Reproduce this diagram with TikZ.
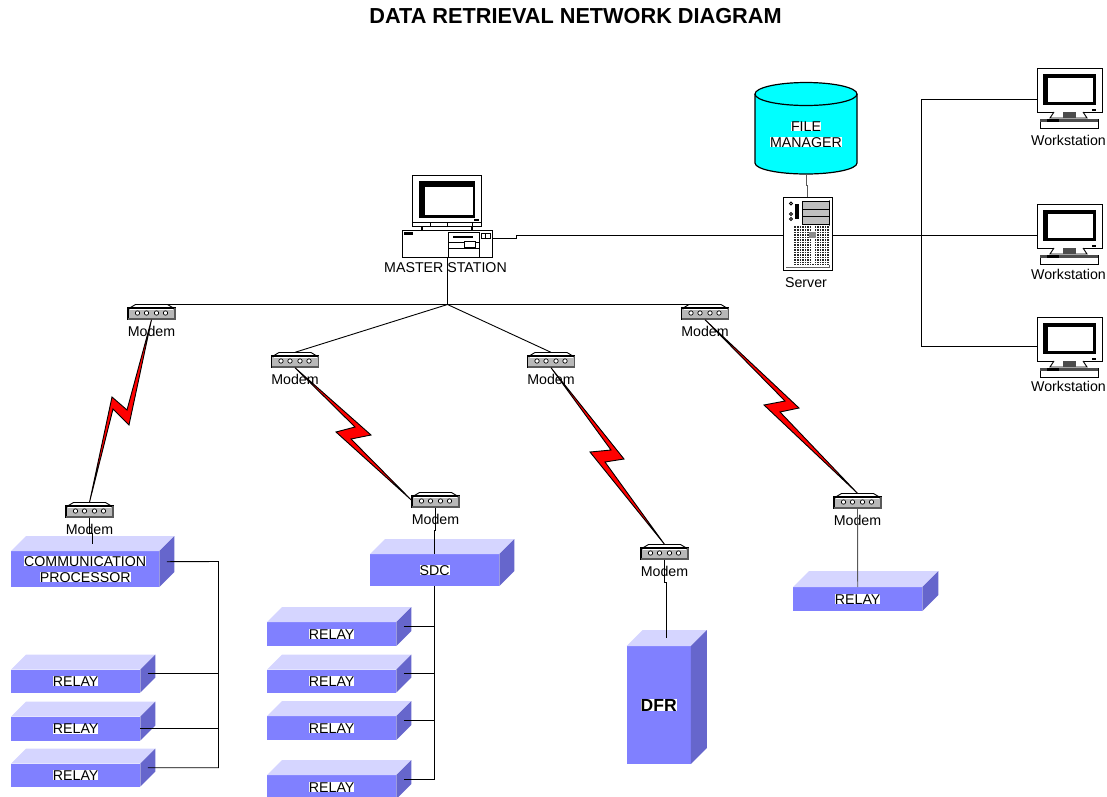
\documentclass[tikz,border=0pt]{standalone}
\usepackage{fontspec}
\setmainfont{Liberation Sans}
\usepackage{xcolor}
\usetikzlibrary{positioning}

\definecolor{boxfront}{HTML}{8080FF}
\definecolor{boxtop}{HTML}{D5D5FF}
\definecolor{boxside}{HTML}{6666CC}
\definecolor{fmcyan}{HTML}{00FFFF}

\tikzset{
    lbl/.style={font=\fontsize{14.2}{16}\selectfont, inner sep=0pt, align=center},
    wire/.style={line width=0.9pt, black},
    graywire/.style={line width=0.9pt, black!65},
    boltline/.style={draw=black, fill=red, line width=0.9pt, miter limit=20},
    frontbox/.style={fill=boxfront, inner sep=0pt, anchor=north west, lbl},
    part/.style={line width=0.9pt, draw=black}
}

\newcommand{\hilite}[1]{{\setlength{\fboxsep}{0pt}\colorbox{white}{#1}}}

\newcommand{\boxunit}[7]{
    \node[frontbox, minimum width=#4, minimum height=#5] (#1) at (#2,#3) {#7};
    \fill[boxtop] (#1.north west) -- ++(#6,-#6) -- ++(#4,0) -- ++(-#6,#6) -- cycle;
    \fill[boxside] (#1.north east) -- ++(#6,-#6) -- ++(0,#5) -- ++(-#6,#6) -- cycle;
    \path (#1.north) ++(#6/2,-#6/2) coordinate (#1top);
    \path (#1.east) ++(#6/2,-#6/2) coordinate (#1side);
}

\newcommand{\modem}[3]{
    \node[minimum width=48, minimum height=15, inner sep=0pt] (#1) at (#2,#3) {};
    \path (#1) ++(0,19) node[lbl] (#1l) {Modem};
    \begin{scope}[shift={(#2,#3)}]
        \draw[part, fill=white] (-21,-4.5) -- (-16,-7.5) -- (16,-7.5) -- (21,-4.5);
        \draw[line width=1.5pt, fill=black!28] (-23.5,-4) rectangle (23.5,6.8);
        \draw[line width=0.7pt, white] (-21.5,-2.5) -- (21.5,-2.5);
        \draw[line width=1.5pt, black!65] (-23.5,6.8) -- (23.5,6.8) -- (23.5,-4);
        \foreach \hx in {-14,-5,5,14}
            \draw[line width=0.7pt, fill=white] (\hx,1) circle[radius=2.2pt];
    \end{scope}
}

\newcommand{\wstation}[4]{
    \node[minimum width=65, minimum height=60, inner sep=0pt] (#1) at (#2+32.5,#3+30) {};
    \path (#1) ++(-1,#4) node[lbl] (#1l) {Workstation};
    \begin{scope}[shift={(#2,#3)}]
        \draw[part, fill=white] (0,0) rectangle (65,44);
        \fill[black] (6,6) rectangle (59,37);
        \fill[white] (10.5,10) rectangle (56,34);
        \fill[black] (55,41) rectangle (59,42.5);
        \draw[part, fill=white] (17,44) -- (13,50) -- (50,50) -- (46,44);
        \fill[black!70] (26,44) rectangle (39,50);
        \draw[part, fill=white] (3,51) rectangle (61,60);
        \fill[black!70] (3,51) rectangle (61,54);
        \fill[black] (10,51) rectangle (22,54);
    \end{scope}
}

\begin{document}
\begin{tikzpicture}[x=1pt, y=-1pt]

    \clip (0,0) rectangle (1107,796);

    \node[font=\fontsize{21.7}{24}\bfseries, inner sep=0pt] (title) at (575.5,16.5) {DATA RETRIEVAL NETWORK DIAGRAM};

    \node[minimum width=90, minimum height=82, inner sep=0pt] (master) at (447.5,216) {};
    \node[lbl] (masterl) at (445.5,268) {MASTER STATION};
    \coordinate (masterp) at (492,238.5);

    \draw[part, fill=white] (412,175) rectangle (481,226);
    \fill[black] (419,181) rectangle (475,218);
    \fill[white] (425,187) rectangle (473,215);
    \draw[part] (412,222) -- (481,222);
    \foreach \tx in {430,447,472} \draw[part] (\tx,222) -- (\tx,226);
    \fill[black] (474,219) rectangle (479,220.5);
    \draw[line width=1.2pt] (422,226) -- (422,230) (472,226) -- (472,230);
    \draw[part, fill=white] (402,230) rectangle (492,257);
    \fill[black] (404,232) rectangle (413,235);
    \draw[part] (448,232) rectangle (479,257);
    \draw[line width=1.3pt] (453,237) -- (473,237);
    \draw[part] (448,242) -- (479,242) (448,248) -- (479,248);
    \draw[part, fill=white] (464,241) rectangle (475,247);
    \draw[part] (481,233) rectangle (485.5,238) (485.5,233) rectangle (490,238);

    \draw[line width=1.2pt, fill=fmcyan] (755,94) -- (755,163)
        arc[start angle=180, end angle=360, x radius=51pt, y radius=11pt]
        -- (857,94) arc[start angle=0, end angle=180, x radius=51pt, y radius=11.5pt] -- cycle;
    \draw[line width=1.2pt] (755,94)
        arc[start angle=180, end angle=360, x radius=51pt, y radius=11.5pt];
    \node[minimum width=102, minimum height=92, inner sep=0pt] (fileman) at (806.5,128) {};
    \node[lbl] (filemanl) at (806,134.5) {\hilite{FILE}\\\hilite{MANAGER}};

    \node[minimum width=49, minimum height=73, inner sep=0pt] (server) at (807.5,233.5) {};
    \node[lbl] (serverl) at (806,283) {Server};
    \draw[part, fill=white] (783,197) rectangle (832,270);
    \draw[line width=0.4pt, black!60] (786,267) -- (829,267) -- (829,200);
    \draw[part, fill=black!25] (802,201) rectangle (829,224);
    \draw[part] (802,209) -- (829,209) (802,216) -- (829,216);
    \draw[part] (791,203.5) circle[radius=1.5pt] (791,214) circle[radius=1.5pt] (791,219) circle[radius=1.5pt];
    \fill[black] (795,204) rectangle (799,219);
    \fill[black!85] (794,226) rectangle (829,265);
    \foreach \gx in {796.5,799,...,829} \draw[line width=0.25pt, white] (\gx,226) -- (\gx,265);
    \foreach \gy in {228.5,231,...,265} \draw[line width=0.25pt, white] (794,\gy) -- (829,\gy);
    \fill[white] (811,226) rectangle (814,264);
    \fill[black!45] (808.5,232) rectangle (816,238);

    \wstation{ws1}{1037}{68}{42}
    \wstation{ws2}{1037}{204}{40}
    \wstation{ws3}{1037}{317}{39}

    \coordinate (busv) at (921.5,235.5);
    \coordinate (ws1p) at (1037,99.5);
    \coordinate (ws2p) at (1037,235.5);
    \coordinate (ws3p) at (1037,346.5);

    \modem{mo1}{151.5}{312}
    \modem{mo2}{295}{360}
    \modem{mo3}{551}{360}
    \modem{mo4}{705}{312}
    \modem{mo5}{89.5}{510}
    \modem{mo6}{435.5}{500}
    \modem{mo7}{664.5}{552}
    \modem{mo8}{857.5}{501}

    \boxunit{comm}{11}{551}{148}{36}{15}{\hilite{COMMUNICATION}\\\hilite{PROCESSOR}}
    \boxunit{rla}{11}{669.5}{129}{23}{15}{\hilite{RELAY}}
    \boxunit{rlb}{11}{716.5}{129}{24}{15}{\hilite{RELAY}}
    \boxunit{rlc}{11}{763.5}{129}{23}{15}{\hilite{RELAY}}

    \boxunit{sdc}{370}{554}{129}{32}{15}{\hilite{SDC}}
    \boxunit{rld}{267}{622}{129}{24}{15}{\hilite{RELAY}}
    \boxunit{rle}{267}{669.5}{129}{23}{15}{\hilite{RELAY}}
    \boxunit{rlf}{267}{716}{129}{24}{15}{\hilite{RELAY}}
    \boxunit{rlg}{267}{775}{129}{24}{15}{\hilite{RELAY}}

    \boxunit{dfr}{626.5}{646}{64}{118}{16}{\hilite{\fontsize{17.5}{20}\bfseries DFR}}
    \boxunit{rlh}{793}{587}{129}{24}{16}{\hilite{RELAY}}

    \coordinate (busm) at (447.5,304.5);
    \coordinate (busl) at (218.5,561.5);
    \draw[wire] (master.south) -- (busm);
    \draw[wire] (mo1.north) -- (mo4.north);
    \draw[wire] (busm) -- (mo2.north);
    \draw[wire] (busm) -- (mo3.north);

    \draw[wire] (masterp) -- ++(24,0) -- ++(0,-3) -- (server.west |- busv);
    \draw[wire] (server.east |- busv) -- (busv) -- (ws2p);
    \draw[wire] (ws1p) -| (busv) |- (ws3p);
    \draw[graywire] (fileman.south) -- ++(0,11) -- ++(1,0) -- (server.north);

    \draw[boltline] (mo1.south) -- (127,410) -- (112,397) -- (mo5.north) -- (113,409) -- (129,425) -- cycle;
    \draw[boltline] (mo2.south) -- (371,435) -- (351,439) -- (mo6.west) -- (336,432) -- (355,427) -- cycle;
    \draw[boltline] (mo3.south) -- (624,459) -- (605,462) -- (mo7.north) -- (590,452) -- (611,450) -- cycle;
    \draw[boltline] (mo4.south) -- (799,408) -- (780,412) -- (mo8.north) -- (764,405) -- (785,401) -- cycle;

    \draw[wire] (mo5.south) -- ++(0,16) -| (commtop);
    \draw[wire] (mo6.south) -- ++(0,23) -| (sdc.north);
    \draw[wire] (mo7) -- ++(0,30) -| (dfrtop);
    \draw[graywire] (mo8.south) -- (rlh.north);

    \draw[wire] (commside) -- (busl) -- (busl |- rlcside) -- (rlcside);
    \draw[wire] (rlaside) -- (busl |- rlaside);
    \draw[wire] (rlb.east) -- (busl |- rlb.east);

    \draw[wire] (sdc.south) -- (sdc.south |- rlgside) -- (rlgside);
    \draw[wire] (rldside) -- (sdc.south |- rldside);
    \draw[wire] (rleside) -- (sdc.south |- rleside);
    \draw[wire] (rlfside) -- (sdc.south |- rlfside);

\end{tikzpicture}
\end{document}
